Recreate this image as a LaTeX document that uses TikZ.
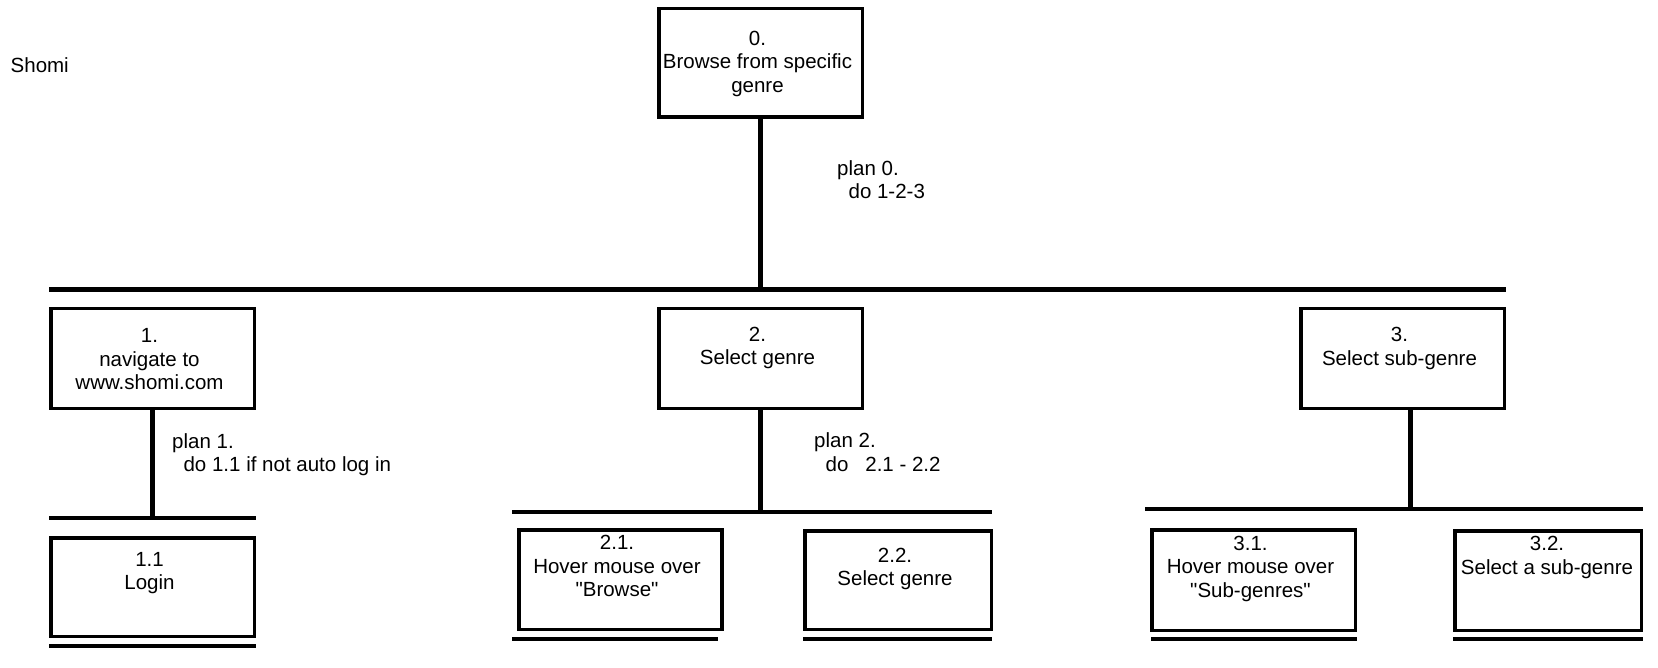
\documentclass[tikz,border=0pt]{standalone}
\usepackage{fontspec}
\setmainfont{Liberation Sans}
\begin{document}
\begin{tikzpicture}[x=1pt,y=-1pt,
  box/.style={draw=black,line width=3.5pt,rectangle,inner sep=0pt,minimum width=203.5pt,minimum height=99.5pt},
  lbl/.style={inner sep=0pt,align=center,font=\fontsize{20.5}{23.5}\selectfont},
  plan/.style={inner sep=0pt,align=left,anchor=west,font=\fontsize{20.5}{23.5}\selectfont},
  conn/.style={line width=5pt},
  bar/.style={line width=4pt},
  mainbar/.style={line width=5pt}]
\useasboundingbox (0,0) rectangle (1658,668);

% boxes
\node[box,minimum height=108.5pt] (b0) at (760.5,63) {};
\node[box] (b1) at (152.5,358.5) {};
\node[box] (b2) at (760.5,358.5) {};
\node[box] (b3) at (1402.5,358.5) {};
\node[box,minimum height=98.5pt] (b11) at (152.5,587) {};
\node[box,minimum width=203pt] (b21) at (620.3,579.5) {};
\node[box,minimum width=186.5pt,minimum height=98.5pt] (b22) at (898,580) {};
\node[box,minimum height=100.5pt] (b31) at (1253.5,580) {};
\node[box,minimum width=186.5pt] (b32) at (1548,580.5) {};

% box texts
\node[lbl] (t0) at (757.5,63.5) {0.\\Browse from specific\\genre};
\node[lbl] (t1) at (149.5,359.5) {1.\\navigate to\\www.shomi.com};
\node[lbl] (t2) at (757.5,348) {2.\\Select genre};
\node[lbl] (t3) at (1399.5,348.5) {3.\\Select sub-genre};
\node[lbl] (t11) at (149.5,573) {1.1\\Login};
\node[lbl] (t21) at (617,566) {2.1.\\Hover mouse over\\\textquotedbl Browse\textquotedbl};
\node[lbl] (t22) at (895,569) {2.2.\\Select genre};
\node[lbl] (t31) at (1250.5,568.5) {3.1.\\Hover mouse over\\\textquotedbl Sub-genres\textquotedbl};
\node[lbl] (t32) at (1547,557.5) {3.2.\\Select a sub-genre};

% title
\node[plan] (title) at (10.5,65) {Shomi};

% plans
\node[plan] (p0) at (837,179.5) {plan 0.\\\hspace*{11.4pt}do 1-2-3};
\node[plan] (p1) at (172,454.5) {plan 1.\\\hspace*{11.4pt}do 1.1 if not auto log in};
\node[plan] (p2) at (814,452) {plan 2.\\\hspace*{11.4pt}do\hspace*{17pt}2.1 - 2.2};

% bars
\coordinate (m0l) at (49,290);
\coordinate (m0r) at (1506,290);
\coordinate (c0) at (760.5,290);
\draw[mainbar] (m0l) -- (m0r);
\coordinate (m1l) at (49,518);
\coordinate (m1r) at (256,518);
\coordinate (c1) at (152.5,518);
\draw[bar] (m1l) -- (m1r);
\coordinate (m2l) at (512,512);
\coordinate (m2r) at (992,512);
\coordinate (c2) at (760.5,512);
\draw[bar] (m2l) -- (m2r);
\coordinate (m3l) at (1145,508.7);
\coordinate (m3r) at (1643,508.7);
\coordinate (c3) at (1410,508.7);
\draw[bar] (m3l) -- (m3r);

% connectors
\draw[conn] (b0.south) -- (c0);
\draw[conn] (b1.south) -- (c1);
\draw[conn] (b2.south) -- (c2);
\draw[conn] (b3.south -| c3) -- (c3);

% underlines (leaf tasks)
\coordinate (u11l) at (49,646);   \coordinate (u11r) at (256,646);
\coordinate (u21l) at (512,639);  \coordinate (u21r) at (717.5,639);
\coordinate (u22l) at (803,639);  \coordinate (u22r) at (992,639);
\coordinate (u31l) at (1151,639); \coordinate (u31r) at (1357,639);
\coordinate (u32l) at (1453,639); \coordinate (u32r) at (1643,639);
\draw[bar] (u11l) -- (u11r);
\draw[bar] (u21l) -- (u21r);
\draw[bar] (u22l) -- (u22r);
\draw[bar] (u31l) -- (u31r);
\draw[bar] (u32l) -- (u32r);
\end{tikzpicture}
\end{document}
